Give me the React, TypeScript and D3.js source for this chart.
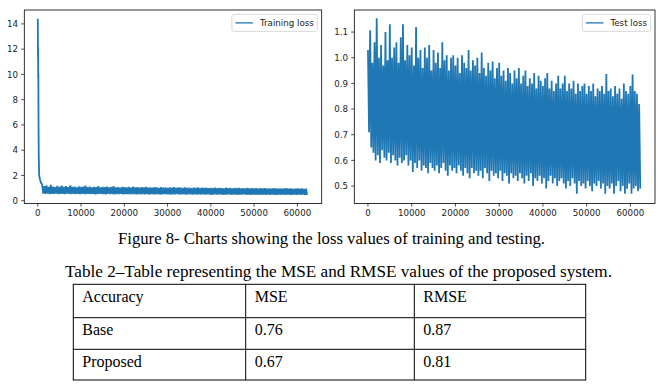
import React from "react";
import * as d3 from "d3";

// ---------- data ----------
const trainHeadSteps = [0, 30, 60, 90, 120, 160, 220, 320, 500, 750];
const trainHeadLoss = [14.4, 11.4, 12.2, 9.7, 10.1, 6.2, 3.4, 2.0, 1.7, 1.4];
// training band: highs at 1000,1500,...,62000 ; lows 250 steps after each high
const trainBandHigh = [
  1.3, 1.15, 1.22, 1.1, 1.25, 1.12, 1.08, 1.18, 1.1, 1.2,
  1.09, 1.15, 1.07, 1.22, 1.1, 1.12, 1.06, 1.14, 1.09, 1.11,
  1.2, 1.07, 1.12, 1.05, 1.1, 1.08, 1.16, 1.06, 1.1, 1.07,
  1.12, 1.05, 1.09, 1.15, 1.06, 1.08, 1.04, 1.1, 1.07, 1.05,
  1.09, 1.04, 1.12, 1.06, 1.08, 1.03, 1.07, 1.05, 1.1, 1.04,
  1.06, 1.03, 1.08, 1.05, 1.02, 1.07, 1.04, 1.06, 1.02, 1.05,
  1.03, 1.07, 1.02, 1.05, 1.03, 1.01, 1.06, 1.02, 1.04, 1.0,
  1.04, 1.02, 1.05, 1.0, 1.03, 1.01, 1.04, 0.99, 1.02, 1.0,
  1.03, 0.99, 1.02, 1.0, 0.98, 1.03, 0.99, 1.01, 0.98, 1.02,
  0.99, 1.01, 0.97, 1.0, 0.98, 1.02, 0.97, 0.99, 0.98, 1.0,
  0.96, 0.99, 0.97, 1.0, 0.96, 0.98, 0.95, 0.99, 0.97, 0.96,
  0.98, 0.95, 0.97, 0.99, 0.95, 0.97, 0.94, 0.96, 0.98, 0.95,
  0.97, 0.94, 0.96,
];
const trainBandLow = [
  0.56, 0.54, 0.57, 0.53, 0.55, 0.54, 0.56, 0.52, 0.55, 0.54,
  0.53, 0.56, 0.54, 0.52, 0.55, 0.53, 0.54, 0.52, 0.55, 0.53,
  0.52, 0.54, 0.53, 0.55, 0.51, 0.53, 0.54, 0.52, 0.53, 0.51,
  0.54, 0.52, 0.53, 0.5, 0.53, 0.52, 0.54, 0.51, 0.52, 0.53,
  0.5, 0.52, 0.53, 0.51, 0.52, 0.5, 0.53, 0.51, 0.52, 0.49,
  0.52, 0.5, 0.51, 0.53, 0.49, 0.51, 0.52, 0.5, 0.51, 0.49,
  0.51, 0.5, 0.52, 0.49, 0.51, 0.5, 0.48, 0.51, 0.5, 0.49,
  0.51, 0.48, 0.5, 0.49, 0.51, 0.48, 0.5, 0.49, 0.47, 0.5,
  0.49, 0.48, 0.5, 0.47, 0.49, 0.48, 0.5, 0.47, 0.49, 0.48,
  0.47, 0.49, 0.48, 0.5, 0.47, 0.48, 0.46, 0.49, 0.48, 0.47,
  0.49, 0.46, 0.48, 0.47, 0.49, 0.46, 0.48, 0.47, 0.46, 0.48,
  0.47, 0.49, 0.46, 0.48, 0.47, 0.46, 0.48, 0.47, 0.49, 0.46,
  0.48, 0.47, 0.47,
];
// test band: highs at 0,500,...,62000 ; lows 250 steps after each high
const testHigh = [
  1.03, 1.107, 0.98, 1.06, 1.154, 1.0, 1.05, 0.97, 1.1, 0.99,
  1.13, 1.0, 1.04, 1.06, 0.98, 1.08, 1.13, 0.99, 1.05, 1.01,
  1.04, 0.97, 1.12, 1.0, 1.03, 0.96, 1.04, 1.0, 1.05, 0.95,
  1.03, 0.98, 1.02, 0.96, 1.06, 0.99, 1.01, 0.95, 1.0, 1.01,
  0.97, 1.0, 0.94, 1.01, 0.98, 0.96, 1.03, 0.95, 0.99, 0.97,
  1.0, 0.94, 1.02, 0.96, 0.93, 0.98, 0.95, 0.985, 0.92, 0.96,
  0.98, 0.93, 0.95, 0.91, 0.96, 0.94, 0.9, 0.95, 0.92, 0.96,
  0.9, 0.93, 0.95, 0.89, 0.92, 0.9, 0.94, 0.88, 0.93, 0.91,
  0.89, 0.92, 0.94, 0.88, 0.91, 0.87, 0.9, 0.93, 0.88, 0.9,
  0.93, 0.87, 0.9, 0.88, 0.91, 0.86, 0.9, 0.87, 0.89, 0.9,
  0.86, 0.89, 0.87, 0.9, 0.85, 0.88, 0.87, 0.89, 0.86, 0.937,
  0.87, 0.88, 0.85, 0.89, 0.86, 0.88, 0.84, 0.9, 0.87, 0.86,
  0.89, 0.935, 0.87, 0.86, 0.82,
];
const testLow = [
  0.71, 0.65, 0.63, 0.6, 0.62, 0.59, 0.64, 0.61, 0.6, 0.63,
  0.59, 0.62, 0.6, 0.58, 0.61, 0.59, 0.6, 0.62, 0.58, 0.6,
  0.555, 0.59, 0.57, 0.6, 0.56, 0.58, 0.57, 0.55, 0.59, 0.57,
  0.56, 0.58, 0.55, 0.57, 0.59, 0.56, 0.54, 0.58, 0.56, 0.57,
  0.55, 0.58, 0.56, 0.54, 0.57, 0.55, 0.53, 0.57, 0.55, 0.56,
  0.54, 0.56, 0.53, 0.57, 0.55, 0.52, 0.56, 0.54, 0.55, 0.53,
  0.56, 0.52, 0.55, 0.54, 0.51, 0.55, 0.53, 0.54, 0.52, 0.55,
  0.53, 0.51, 0.54, 0.52, 0.55, 0.5, 0.53, 0.52, 0.54, 0.51,
  0.53, 0.49, 0.52, 0.54, 0.51, 0.53, 0.5, 0.52, 0.53, 0.51,
  0.49, 0.52, 0.5, 0.53, 0.51, 0.47, 0.52, 0.5, 0.51, 0.49,
  0.52, 0.5, 0.48, 0.51, 0.5, 0.52, 0.49, 0.51, 0.47, 0.5,
  0.49, 0.51, 0.47, 0.5, 0.52, 0.48, 0.5, 0.47, 0.49, 0.51,
  0.47, 0.49, 0.5, 0.48, 0.49,
];

const xTicks = [0, 10000, 20000, 30000, 40000, 50000, 60000];
const trainYTicks = [0, 2, 4, 6, 8, 10, 12, 14];
const testYTicks = [0.5, 0.6, 0.7, 0.8, 0.9, 1.0, 1.1];
const trainLabel = "Training loss";
const testLabel = "Test loss";

const captionText = "Figure 8- Charts showing the loss values of training and testing.";
const tableTitle = "Table 2\u2013Table representing the MSE and RMSE values of the proposed system.";
const tableHeader = ["Accuracy", "MSE", "RMSE"];
const tableRowNames = ["Base", "Proposed"];
const mseValues = ["0.76", "0.67"];
const rmseValues = ["0.87", "0.81"];

// ---------- build series ----------
type Pt = [number, number];
const trainSeries: Pt[] = [
  ...trainHeadSteps.map((s, i) => [s, trainHeadLoss[i]] as Pt),
  ...trainBandHigh.flatMap((h, i) => [
    [1000 + i * 500, h] as Pt,
    [1000 + i * 500 + 250, trainBandLow[i]] as Pt,
  ]),
];
const testSeries: Pt[] = testHigh.flatMap((h, i) => [
  [i * 500, h] as Pt,
  [i * 500 + 250, testLow[i]] as Pt,
]);

const BLUE = "#1f77b4";
const TICK_FONT = "'DejaVu Sans', sans-serif";
const SERIF = "'Liberation Serif', 'Times New Roman', serif";

function measure(text: string, font: string): number {
  const c = document.createElement("canvas").getContext("2d");
  if (!c) return text.length * 5;
  c.font = font;
  return c.measureText(text).width;
}

type ChartProps = {
  left: number;
  right: number;
  top: number;
  bottom: number;
  xDomain: [number, number];
  yDomain: [number, number];
  series: Pt[];
  yTicks: number[];
  yFormat: (v: number) => string;
  label: string;
  strokeW: number;
};

function LossChart(p: ChartProps) {
  const x = d3.scaleLinear().domain(p.xDomain).range([p.left, p.right]);
  const y = d3.scaleLinear().domain(p.yDomain).range([p.bottom, p.top]);
  const line = d3
    .line<Pt>()
    .x((d) => x(d[0]))
    .y((d) => y(d[1]));
  const fs = 8.7;
  const tickLen = 3.1;
  const pad = 3.1;
  const tw = measure(p.label, `${fs}px 'DejaVu Sans'`);
  const boxR = p.right - 4.4;
  const boxT = p.top + 4.4;
  const boxH = 17;
  const boxL = boxR - 3.5 - tw - 7 - 17.6 - 3.5;
  return (
    <g>
      <path d={line(p.series) || ""} fill="none" stroke={BLUE} strokeWidth={p.strokeW} strokeLinejoin="miter" />
      <rect x={p.left} y={p.top} width={p.right - p.left} height={p.bottom - p.top} fill="none" stroke="#000" strokeWidth={0.8} />
      {xTicks.map((t) => (
        <g key={"x" + t}>
          <line x1={x(t)} x2={x(t)} y1={p.bottom} y2={p.bottom + tickLen} stroke="#000" strokeWidth={0.7} />
          <text x={x(t)} y={p.bottom + tickLen + pad} dy="0.76em" textAnchor="middle" fontFamily={TICK_FONT} fontSize={fs} fill="#222">
            {t}
          </text>
        </g>
      ))}
      {p.yTicks.map((t) => (
        <g key={"y" + t}>
          <line x1={p.left - tickLen} x2={p.left} y1={y(t)} y2={y(t)} stroke="#000" strokeWidth={0.7} />
          <text x={p.left - tickLen - pad} y={y(t)} dy="0.36em" textAnchor="end" fontFamily={TICK_FONT} fontSize={fs} fill="#222">
            {p.yFormat(t)}
          </text>
        </g>
      ))}
      <rect x={boxL} y={boxT} width={boxR - boxL} height={boxH} rx={2} fill="#fff" fillOpacity={0.8} stroke="#d0d0d0" strokeWidth={0.8} />
      <line x1={boxL + 3.5} x2={boxL + 3.5 + 17.6} y1={boxT + boxH / 2} y2={boxT + boxH / 2} stroke={BLUE} strokeWidth={1.3} />
      <text x={boxR - 3.5} y={boxT + boxH / 2} dy="0.36em" textAnchor="end" fontFamily={TICK_FONT} fontSize={fs} fill="#222">
        {p.label}
      </text>
    </g>
  );
}

export default function App() {
  const tableLeft = 73.3;
  const colX = [73.3, 245.7, 414.3, 585.7];
  const rowY = [284.3, 317.7, 349.3, 380];
  const rows = [tableHeader, ...tableRowNames.map((n, i) => [n, mseValues[i], rmseValues[i]])];
  return (
    <svg width={661} height={386} style={{ position: "absolute", left: 0, top: 0, background: "#fff" }}>
      <rect x={0} y={0} width={661} height={386} fill="#fff" />
      <LossChart
        left={24.3}
        right={321.7}
        top={10}
        bottom={203.5}
        xDomain={[-3125, 65625]}
        yDomain={[-0.22, 15.1]}
        series={trainSeries}
        yTicks={trainYTicks}
        yFormat={(v) => String(v)}
        label={trainLabel}
        strokeW={1.8}
      />
      <LossChart
        left={354.3}
        right={655}
        top={10}
        bottom={203.5}
        xDomain={[-3125, 65625]}
        yDomain={[0.432, 1.186]}
        series={testSeries}
        yTicks={testYTicks}
        yFormat={d3.format(".1f")}
        label={testLabel}
        strokeW={1.8}
      />
      <text x={118} y={244} fontFamily={SERIF} fontSize={16} fill="#000" textLength={427} lengthAdjust="spacingAndGlyphs">
        {captionText}
      </text>
      <text x={65} y={277} fontFamily={SERIF} fontSize={16} fill="#000" textLength={547} lengthAdjust="spacingAndGlyphs">
        {tableTitle}
      </text>
      <g stroke="#000" strokeWidth={1}>
        {rowY.map((yy) => (
          <line key={"r" + yy} x1={tableLeft - 0.5} x2={colX[3] + 0.5} y1={yy} y2={yy} />
        ))}
        {colX.map((xx) => (
          <line key={"c" + xx} x1={xx} x2={xx} y1={rowY[0]} y2={rowY[3]} />
        ))}
      </g>
      {rows.map((r, ri) =>
        r.map((cell, ci) => (
          <text key={ri + "-" + ci} x={colX[ci] + 9} y={rowY[ri] + 17.5} fontFamily={SERIF} fontSize={16} fill="#000">
            {cell}
          </text>
        ))
      )}
    </svg>
  );
}
